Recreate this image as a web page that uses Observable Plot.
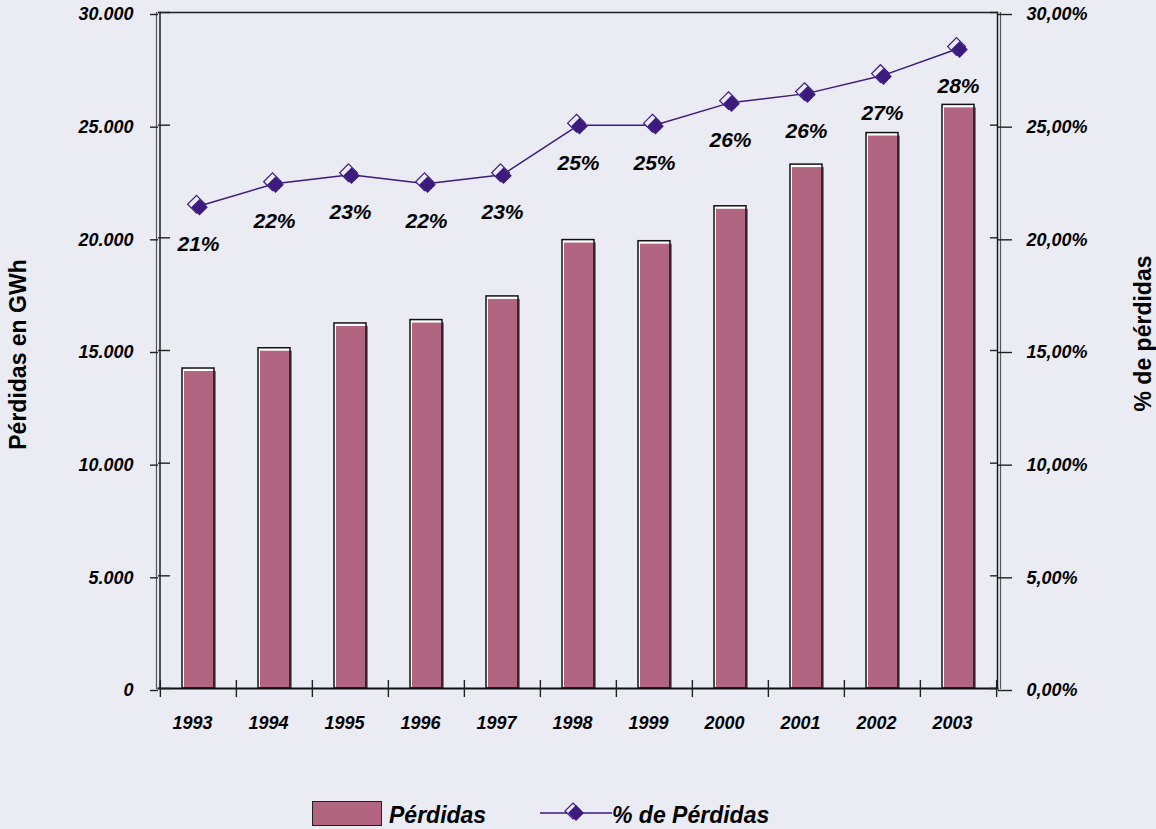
<!DOCTYPE html>
<html>
<head>
<meta charset="utf-8">
<script src="https://cdn.jsdelivr.net/npm/d3@7"></script>
<script src="https://cdn.jsdelivr.net/npm/@observablehq/plot@0.6"></script>
<style>
  html, body { margin: 0; padding: 0; background: #EBEBF3; }
  body { width: 1156px; height: 829px; overflow: hidden; font-family: "Liberation Sans", Arial, sans-serif; }
  #legend { position: relative; height: 39px; font-weight: bold; font-style: italic; font-size: 23px; color: #000; }
  #legend .swatch { position: absolute; left: 312px; top: 11px; width: 68px; height: 23px; background: #B26580; border: 1.5px solid #222; }
  #legend .lab { position: absolute; top: 12px; white-space: nowrap; line-height: 26px; }
  #legend svg { position: absolute; left: 538px; top: 10px; }
</style>
</head>
<body>
<div id="chart"></div>
<div id="legend">
  <div class="swatch"></div>
  <span class="lab" style="left:389px">Pérdidas</span>
  <svg width="76" height="26" viewBox="0 0 76 26">
    <line x1="2" y1="13" x2="74" y2="13" stroke="#3D1A7E" stroke-width="1.5"></line>
    <path d="M35,3 L43,11 L35,19 L27,11 Z" fill="#EBEBF3" stroke="#3D1A7E" stroke-width="1.2"></path>
    <path d="M38,5 L46,13 L38,21 L30,13 Z" fill="#3D1A7E"></path>
  </svg>
  <span class="lab" style="left:612px">% de Pérdidas</span>
</div>
<script>
// Pérdidas de energía por año: valor absoluto (GWh) y porcentaje
const years = ["1993", "1994", "1995", "1996", "1997", "1998", "1999", "2000", "2001", "2002", "2003"];
const perdidasGWh = [14200, 15100, 16200, 16350, 17400, 19900, 19850, 21400, 23250, 24650, 25900];
const perdidasPct = [21.4, 22.4, 22.8, 22.4, 22.8, 25.0, 25.0, 26.0, 26.4, 27.2, 28.4];
const yTicks = [0, 5000, 10000, 15000, 20000, 25000, 30000];

const rows = years.map((year, i) => ({year, gwh: perdidasGWh[i], pct: perdidasPct[i]}));

const es = d3.formatLocale({decimal: ",", thousands: ".", grouping: [3], currency: ["", " €"]});
const fmtGWh = es.format(",.0f");
const fmtPct = es.format(".2f");

// The percentage series shares the left scale: 30 % ↔ 30.000 GWh
const pctToY = (p) => p * 1000;

const W = 1156, H = 790;
const M = {top: 12, right: 159, bottom: 102, left: 158};
const FW = W - M.left - M.right;
const FH = H - M.top - M.bottom;
const step = FW / years.length;

const pink = "#B26580";
const purple = "#3D1A7E";
const bg = "#EBEBF3";

const chart = Plot.plot({
  width: W,
  height: H,
  marginTop: M.top,
  marginRight: M.right,
  marginBottom: M.bottom,
  marginLeft: M.left,
  style: `background:${bg};font-family:'Liberation Sans',Arial,sans-serif;font-weight:bold;font-style:italic;color:#000;overflow:visible;`,
  x: {type: "band", domain: years, paddingInner: 0.58, paddingOuter: 0.29},
  y: {domain: [0, 30000]},
  marks: [
    // bars with offset shading
    Plot.barY(rows, {x: "year", y: "gwh", fill: "white"}),
    Plot.barY(rows, {x: "year", y: "gwh", fill: pink, dx: 2, insetTop: 3}),
    Plot.barY(rows, {x: "year", y: "gwh", fill: "none", stroke: "#111", strokeWidth: 1.5}),

    // frame edges (double vertical axes)
    Plot.frame({anchor: "left", stroke: "#555", strokeWidth: 1.2, dx: -2}),
    Plot.frame({anchor: "left", stroke: "#111", strokeWidth: 1.4, dx: 1.5}),
    Plot.frame({anchor: "right", stroke: "#111", strokeWidth: 1.4}),
    Plot.frame({anchor: "right", stroke: "#555", strokeWidth: 1.2, dx: 3}),
    Plot.frame({anchor: "top", stroke: "#222", strokeWidth: 1.4}),
    Plot.frame({anchor: "bottom", stroke: "#111", strokeWidth: 2}),

    // category separators on the x axis
    Plot.tickX(years, {x: (d) => d, dx: -step / 2, insetTop: FH - 8, insetBottom: -9, stroke: "#222", strokeWidth: 1.4}),
    Plot.tickX(years.slice(-1), {x: (d) => d, dx: step / 2, insetTop: FH - 8, insetBottom: -9, stroke: "#222", strokeWidth: 1.4}),

    // left axis (GWh)
    Plot.tickY(yTicks, {y: (d) => d, insetRight: FW - 12, stroke: "#222", strokeWidth: 1.4}),
    Plot.axisY({anchor: "left", ticks: yTicks, tickSize: 8, tickPadding: 17, tickFormat: fmtGWh,
      fontSize: 18, dy: 2, label: null, stroke: "#222", strokeWidth: 1.4}),

    // right axis (%)
    Plot.tickY(yTicks, {y: (d) => d, insetLeft: FW - 7, stroke: "#222", strokeWidth: 1.4}),
    Plot.axisY({anchor: "right", ticks: yTicks, tickSize: 14, tickPadding: 15,
      tickFormat: (d) => fmtPct(d / 1000) + "%", fontSize: 18, dy: 2, label: null, stroke: "#222", strokeWidth: 1.4}),

    // year labels
    Plot.axisX({tickSize: 0, tickPadding: 28, fontSize: 18, dx: -6, label: null}),

    // percentage line with diamond markers
    Plot.line(rows, {x: "year", y: (d) => pctToY(d.pct), stroke: purple, strokeWidth: 1.5}),
    Plot.dot(rows, {x: "year", y: (d) => pctToY(d.pct), symbol: "diamond2", r: 8, fill: bg, stroke: purple, strokeWidth: 1.2, dx: -2, dy: -2}),
    Plot.dot(rows, {x: "year", y: (d) => pctToY(d.pct), symbol: "diamond2", r: 7.5, fill: purple, stroke: "none", dx: 1, dy: 1}),
    Plot.text(rows, {x: "year", y: (d) => pctToY(d.pct), text: (d) => Math.round(d.pct) + "%", dy: 38,
      fontSize: 21, fill: "#000"}),

    // axis titles
    Plot.text(["Pérdidas en GWh"], {frameAnchor: "left", textAnchor: "middle", rotate: -90, dx: -140, dy: 4,
      fontSize: 23, fontStyle: "normal", fill: "#000"}),
    Plot.text(["% de pérdidas"], {frameAnchor: "right", textAnchor: "middle", rotate: -90, dx: 146, dy: -17,
      fontSize: 23, fontStyle: "normal", fill: "#000"})
  ]
});

document.getElementById("chart").appendChild(chart);
</script>
</body>
</html>
